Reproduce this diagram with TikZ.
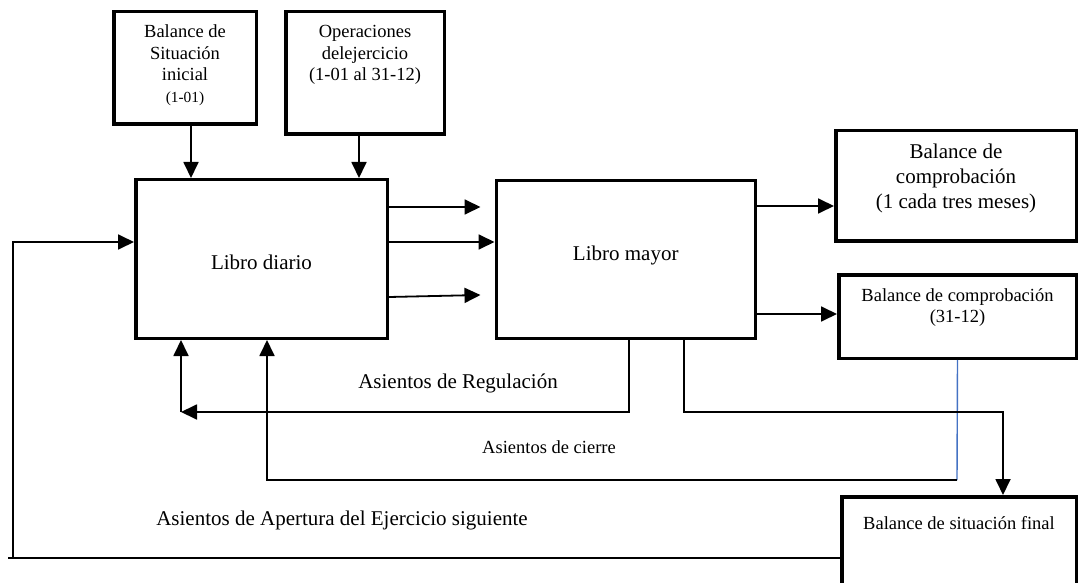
\documentclass[tikz,border=0pt]{standalone}
\usepackage{fontspec}
\setmainfont{Liberation Serif}
\usetikzlibrary{arrows.meta}
\definecolor{linkblue}{HTML}{4472C4}
\begin{document}
\begin{tikzpicture}[x=1pt,y=-1pt,
  box/.style={draw, line width=3.5pt, inner sep=0pt},
  conn/.style={line width=1.8pt},
  arr/.style={conn, -{Triangle[length=16pt,width=15pt]}},
  big/.style={font=\fontsize{21}{25}\selectfont, align=center, inner sep=0pt},
  mid/.style={font=\fontsize{18.5}{21.5}\selectfont, align=center, inner sep=0pt}
]
\clip (0,0) rectangle (1080,583);
\fill[white] (0,0) rectangle (1080,583);

% boxes
\node[box, minimum width=142.5pt, minimum height=112.5pt] (bsi) at (185,68) {};
\node[mid] (bsit) at ([yshift=3]bsi.center) {Balance de\\Situación\\inicial\\{\fontsize{15.4}{18}\selectfont (1-01)}};

\node[box, minimum width=158.5pt, minimum height=122.5pt] (ope) at (365,73) {};
\node[mid] (opet) at ([yshift=18]ope.center) {Operaciones\\delejercicio\\(1-01 al 31-12)};

\node[box, minimum width=251.5pt, minimum height=158.5pt] (diario) at (261.5,259) {};
\node[big] (diariot) at ([yshift=-3]diario.center) {Libro diario};

\node[box, minimum width=259pt, minimum height=157.5pt] (mayor) at (625.75,259.5) {};
\node[big] (mayort) at ([yshift=4.5]mayor.center) {Libro mayor};

\node[box, minimum width=240.5pt, minimum height=110.5pt] (comp1) at (956,186) {};
\node[big] (comp1t) at ([yshift=8]comp1.center) {Balance de\\comprobación\\(1 cada tres meses)};

\node[box, minimum width=237.5pt, minimum height=83.5pt] (comp2) at (957.5,316.5) {};
\node[mid] (comp2t) at ([yshift=9]comp2.center) {Balance de comprobación\\(31-12)};

\node[box, minimum width=234.5pt, minimum height=113.5pt] (final) at (959,553.5) {};
\node[mid] (finalt) at (959,523) {Balance de situación final};

% free texts
\node[big] (treg) at (458,383) {Asientos de Regulación};
\node[mid] (tcie) at (549,447) {Asientos de cierre};
\node[big] (tape) at (342,520) {Asientos de Apertura del Ejercicio siguiente};

% top arrows
\draw[arr] ([xshift=6]bsi.south) -- ([xshift=6]bsi.south |- diario.north);
\draw[arr] ([xshift=-6]ope.south) -- ([xshift=-6]ope.south |- diario.north);

% diario -> mayor
\draw[arr] ([yshift=52]diario.east) -- ([xshift=-14,yshift=52]diario.east -| mayor.west);
\draw[arr] ([yshift=17]diario.east) -- ([yshift=17]diario.east -| mayor.west);
\draw[arr] ([yshift=-38]diario.east) -- ([xshift=-14,yshift=-36]diario.east -| mayor.west);

% mayor -> comprobaciones
\draw[arr] ([yshift=53.5]mayor.east) -- ([yshift=53.5]mayor.east -| comp1.west);
\draw[arr] ([yshift=-54.5]mayor.east) -- ([yshift=-54.5]mayor.east -| comp2.west);

% Regulacion
\coordinate (reg) at (181,412);
\draw[arr] ([xshift=3]mayor.south) |- (reg);
\draw[arr] (reg) -- (reg |- diario.south);

% Cierre
\coordinate (cie) at (957,480);
\draw[linkblue, line width=1.4pt] (comp2.south) -- (cie);
\draw[arr] (cie) -| ([xshift=5.5]diario.south);

% to final
\coordinate (fin) at (1003,412);
\draw[arr] ([xshift=58]mayor.south) |- (fin) -- (fin |- final.north);

% Apertura
\coordinate (apL) at (13,558);
\draw[conn] ([yshift=-4.5]final.west) -- (8,558);
\draw[arr] (apL) |- ([yshift=17]diario.west);
\end{tikzpicture}
\end{document}
